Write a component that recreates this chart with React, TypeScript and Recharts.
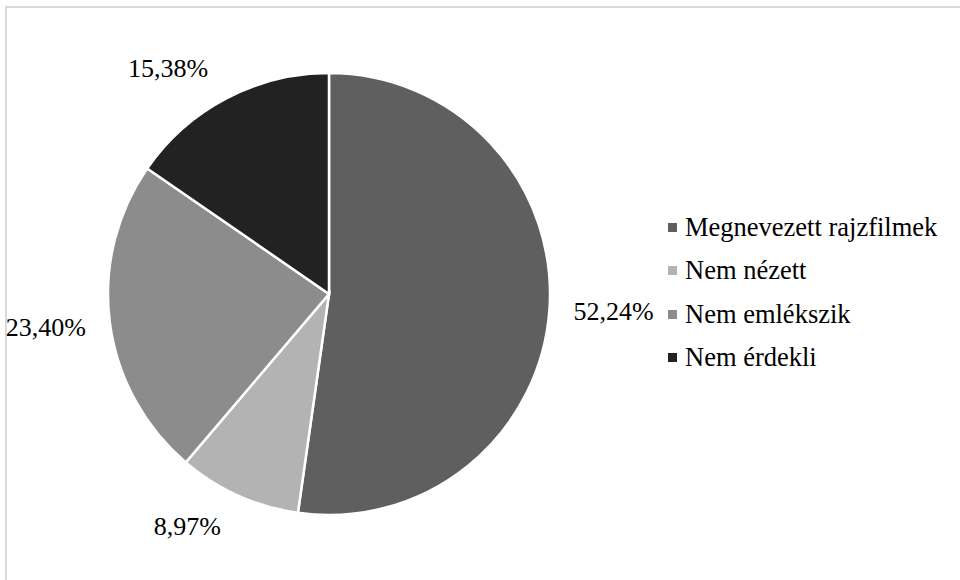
import React from 'react';
import { PieChart, Pie, Cell } from 'recharts';

const categories = ['Megnevezett rajzfilmek', 'Nem nézett', 'Nem emlékszik', 'Nem érdekli'];
const shares = [52.24, 8.97, 23.4, 15.38];
const colors = ['#5f5f5f', '#b3b3b3', '#8c8c8c', '#222222'];

const data = categories.map((name, i) => ({ name, value: shares[i] }));

const FONT = '"Liberation Serif", "Times New Roman", serif';
const RADIAN = Math.PI / 180;

const formatPct = (v: number) => v.toFixed(2).replace('.', ',') + '%';

// Percentage labels sit just outside the rim, anchored away from the pie.
const renderLabel = (props: any) => {
  const { cx, cy, midAngle, outerRadius, value } = props;
  const cos = Math.cos(-midAngle * RADIAN);
  const sin = Math.sin(-midAngle * RADIAN);
  const r = outerRadius + 24;
  const x = cx + r * cos + Math.sign(cos) * 9 * sin * sin;
  const y = cy + r * sin + sin * 10;
  return (
    <text
      x={x}
      y={y}
      fill="#000"
      fontFamily={FONT}
      fontSize={26}
      textAnchor={cos >= 0 ? 'start' : 'end'}
      dominantBaseline="central"
    >
      {formatPct(value)}
    </text>
  );
};

function LegendBox() {
  return (
    <div
      style={{
        position: 'absolute',
        left: 668,
        top: 206,
        fontFamily: FONT,
        fontSize: 26.5,
        color: '#000',
        whiteSpace: 'nowrap',
      }}
    >
      {categories.map((name, i) => (
        <div key={name} style={{ display: 'flex', alignItems: 'center', height: 43.3 }}>
          <span
            style={{
              display: 'inline-block',
              width: 9,
              height: 9,
              background: colors[i],
              marginRight: 8,
            }}
          />
          <span>{name}</span>
        </div>
      ))}
    </div>
  );
}

export default function App() {
  return (
    <div style={{ position: 'absolute', left: 0, top: 0, width: 960, height: 580, background: '#fff', overflow: 'hidden' }}>
      <div
        style={{
          position: 'absolute',
          left: 5,
          top: 6,
          width: 970,
          height: 590,
          borderLeft: '2px solid #d9d9d9',
          borderTop: '2px solid #d9d9d9',
        }}
      />
      <div style={{ position: 'absolute', left: 0, top: 0 }}>
        <PieChart width={960} height={580} margin={{ top: 0, right: 0, bottom: 0, left: 0 }}>
          <Pie
            data={data}
            dataKey="value"
            nameKey="name"
            cx={329}
            cy={294}
            outerRadius={221}
            startAngle={90}
            endAngle={-270}
            stroke="#ffffff"
            strokeWidth={2.5}
            label={renderLabel}
            labelLine={false}
            isAnimationActive={false}
          >
            {data.map((_, i) => (
              <Cell key={i} fill={colors[i]} />
            ))}
          </Pie>
        </PieChart>
      </div>
      <LegendBox />
    </div>
  );
}
